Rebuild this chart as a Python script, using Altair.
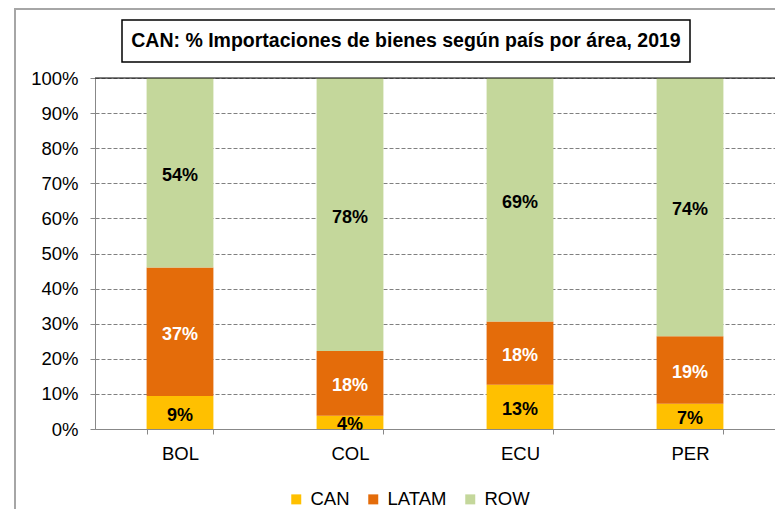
import altair as alt
import pandas as pd

countries = ["BOL", "COL", "ECU", "PER"]
areas = ["CAN", "LATAM", "ROW"]
can = [9.4, 3.8, 12.6, 7.2]
latam = [36.6, 18.4, 18.0, 19.2]
row = [54.0, 77.8, 69.4, 73.6]
area_colors = ["#FFC000", "#E46C0A", "#C4D79B"]
label_colors = ["black", "white", "black"]
title_text = "CAN: % Importaciones de bienes según país por área, 2019"
y_ticks = [0, 0.1, 0.2, 0.3, 0.4, 0.5, 0.6, 0.7, 0.8, 0.9, 1.0]

rows = []
series = {"CAN": can, "LATAM": latam, "ROW": row}
for i, c in enumerate(countries):
    for j, a in enumerate(areas):
        rows.append({"country": c, "area": a, "value": series[a][i],
                     "ord": j, "tcolor": label_colors[j]})
df = pd.DataFrame(rows)

FONT = "Liberation Sans"

base = alt.Chart(df).transform_stack(
    stack="value", groupby=["country"], as_=["lo", "hi"],
    sort=[alt.SortField("ord", order="ascending")]
).transform_calculate(
    lo_f="datum.lo/100", hi_f="datum.hi/100", mid="(datum.lo+datum.hi)/200",
    label="format(datum.value, '.0f') + '%'"
)

xaxis = alt.Axis(labelAngle=0, tickBand="extent", tickSize=5,
                 tickColor="#888888", domainColor="#888888",
                 labelFontSize=18.5, labelFont=FONT, labelColor="black",
                 labelPadding=10, grid=False)
xscale = alt.Scale(paddingInner=0.607, paddingOuter=0.3035)
yaxis = alt.Axis(values=y_ticks, format=".0%", tickSize=5, labelOverlap=False,
                 tickColor="#888888", domainColor="#888888",
                 gridColor="#808080", gridDash=[4, 2], gridWidth=1,
                 labelFontSize=18.5, labelFont=FONT, labelColor="black",
                 labelPadding=12)
yscale = alt.Scale(domain=[0, 1], nice=False)

bars = base.mark_bar(stroke=None).encode(
    x=alt.X("country:N", sort=countries, title=None, scale=xscale, axis=xaxis),
    y=alt.Y("lo_f:Q", title=None, scale=yscale, axis=yaxis),
    y2="hi_f:Q",
    color=alt.Color("area:N", sort=areas, title=None,
                    scale=alt.Scale(domain=areas, range=area_colors),
                    legend=alt.Legend(orient="none", direction="horizontal",
                                      legendX=192, legendY=412,
                                      symbolType="square", symbolSize=100,
                                      symbolStrokeWidth=0,
                                      labelFontSize=18.5, labelFont=FONT,
                                      labelColor="black", columnPadding=14,
                                      labelOffset=5)),
)

labels = base.mark_text(fontSize=18, fontWeight="bold", font=FONT,
                        baseline="middle", align="center", dy=3).encode(
    x=alt.X("country:N", sort=countries, title=None, scale=xscale, axis=xaxis),
    y=alt.Y("mid:Q", title=None, scale=yscale, axis=yaxis),
    text="label:N",
    color=alt.Color("tcolor:N", scale=None),
)

top_rule = alt.Chart(pd.DataFrame({"v": [1.0]})).mark_rule(
    color="black", strokeWidth=1).encode(
    y=alt.Y("v:Q", title=None, scale=yscale, axis=yaxis))

one = pd.DataFrame({"t": [0]})
frame = alt.Chart(one).mark_rect(fill="transparent", stroke="#A6A6A6",
                                 strokeWidth=2).encode(
    x=alt.value(-80), x2=alt.value(700), y=alt.value(-69), y2=alt.value(460))

title_box = alt.Chart(one).mark_rect(fill="white", stroke="black",
                                     strokeWidth=1.5).encode(
    x=alt.value(27), x2=alt.value(595), y=alt.value(-58), y2=alt.value(-16))

title_txt = alt.Chart(one).mark_text(
    text=title_text, font=FONT, fontSize=19.5, fontWeight="bold",
    align="center", baseline="middle", color="black").encode(
    x=alt.value(311), y=alt.value(-37))

chart = alt.layer(frame, title_box, title_txt, bars, top_rule, labels).properties(
    width=680, height=351,
    autosize=alt.AutoSizeParams(type="none"),
    padding={"left": 87, "top": 70, "right": 0, "bottom": 80},
).configure_view(stroke="black", strokeWidth=1).configure(
    background="white"
)

chart.save("out.html", embed_options={"renderer": "svg", "actions": False})
